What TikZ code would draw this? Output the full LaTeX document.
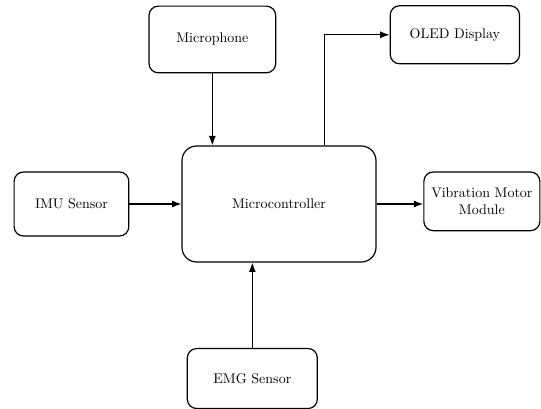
\documentclass[tikz,border=0pt]{standalone}
\usetikzlibrary{arrows.meta,positioning}

\begin{document}
\begin{tikzpicture}[every node/.style={font=\fontsize{10.5}{13}\selectfont, align=center}, block/.style={draw, line width=0.9pt, rounded corners=7pt, inner sep=3pt}]
        \useasboundingbox (-209.25pt,-153.75pt) rectangle (196.5pt,153pt);
        \node[block, rounded corners=11pt, minimum width=145.5pt, minimum height=87pt] (micro) at (0,0) {Microcontroller};
        \node[block, minimum width=86pt, minimum height=48pt, left=39pt of micro] (imu) {IMU Sensor};
        \node[block, minimum width=87pt, minimum height=44pt, right=35pt of micro, yshift=2pt] (vib) {Vibration Motor\\Module};
        \node[block, minimum width=95pt, minimum height=50pt, above=54pt of micro, xshift=-50pt] (mic) {Microphone};
        \node[block, minimum width=97pt, minimum height=43.5pt, right=85pt of mic, yshift=3.5pt] (oled) {OLED Display};
        \node[block, minimum width=97.5pt, minimum height=45pt, below=64pt of micro, xshift=-20pt] (emg) {EMG Sensor};

        \draw[-Latex, line width=0.9pt] (mic.south) -- (mic.south |- micro.north);
        \draw[-Latex, line width=0.9pt] (micro.52) |- (oled.west);
        \draw[-Latex, line width=0.9pt] (imu) -- (micro);
        \draw[-Latex, line width=0.9pt] (micro) -- (micro -| vib.west);
        \draw[-Latex, line width=0.9pt] (emg.north) -- (emg.north |- micro.south);
    \end{tikzpicture}
\end{document}
